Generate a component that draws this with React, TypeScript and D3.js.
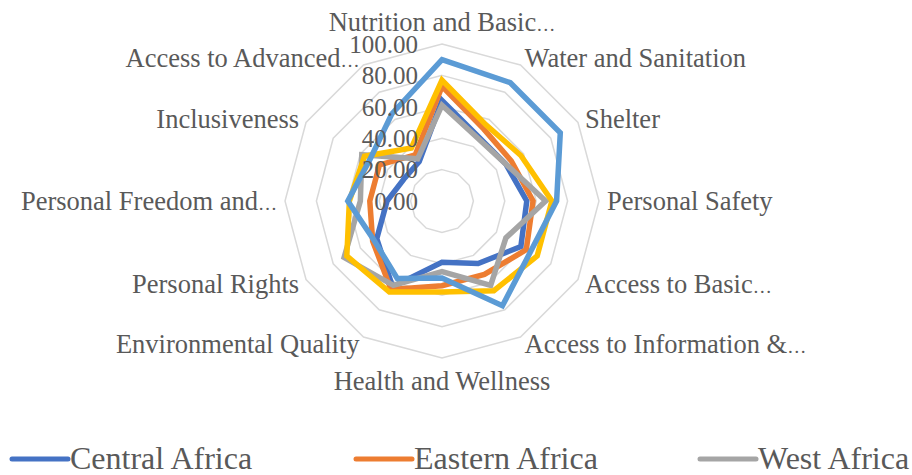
import React from "react";
import * as d3 from "d3";

const categories = [
  "Nutrition and Basic…",
  "Water and Sanitation",
  "Shelter",
  "Personal Safety",
  "Access to Basic…",
  "Access to Information &…",
  "Health and Wellness",
  "Environmental Quality",
  "Personal Rights",
  "Personal Freedom and…",
  "Inclusiveness",
  "Access to Advanced…",
];

const seriesNames = ["Central Africa", "Eastern Africa", "West Africa", "Southern Africa", "North Africa"];
const centralAfrica = [64, 47, 47, 54, 58, 46, 39, 63, 48, 35, 28, 29];
const easternAfrica = [73, 53, 51, 58, 62, 54, 54, 65, 51, 46, 46, 34];
const westAfrica = [61, 46, 47, 66, 47, 62, 45, 62, 72, 52, 59, 31];
const southernAfrica = [77, 56, 58, 70, 70, 66, 58, 67, 70, 59, 57, 39];
const northAfrica = [90, 87, 87, 73, 65, 77, 49, 57, 50, 60, 53, 64];
const seriesColors = ["#4472C4", "#ED7D31", "#A5A5A5", "#FFC000", "#5B9BD5"];
const tickValues = [0, 20, 40, 60, 80, 100];

const W = 912;
const H = 475;
const CX = 442;
const CY = 201;
const R = 157;
const FONT = "'Liberation Serif', 'Times New Roman', serif";
const TEXT = "#595959";

function Label({ text, size }: { text: string; size: number }) {
  if (text.endsWith("…")) {
    return (
      <>
        {text.slice(0, -1)}
        <tspan fontSize={size * 0.72}>…</tspan>
      </>
    );
  }
  return <>{text}</>;
}

export default function App() {
  const allSeries = [centralAfrica, easternAfrica, westAfrica, southernAfrica, northAfrica];
  const n = categories.length;
  const angle = d3.scaleLinear().domain([0, n]).range([0, 2 * Math.PI]);
  const r = d3.scaleLinear().domain([0, 100]).range([0, R]);

  const radial = d3
    .lineRadial<number>()
    .angle((_, i) => angle(i))
    .radius((v) => r(v))
    .curve(d3.curveLinearClosed);

  const legendItems = seriesNames
    .map((name, i) => ({
      name,
      color: seriesColors[i],
      x: 12 + (i % 3) * 344,
      y: 459 + Math.floor(i / 3) * 45,
    }))
    .filter((d) => d.y < H);

  const labelSize = 26.5;

  return (
    <svg
      width={W}
      height={H}
      style={{ position: "absolute", left: 0, top: 0, background: "#fff", overflow: "hidden" }}
      fontFamily={FONT}
    >
      <rect width={W} height={H} fill="#fff" />
      <g transform={`translate(${CX},${CY})`}>
        {tickValues.slice(1).map((t) => (
          <path
            key={t}
            d={radial(new Array(n).fill(t)) || ""}
            fill="none"
            stroke="#D9D9D9"
            strokeWidth={1.5}
          />
        ))}
        {allSeries.map((vals, si) => (
          <path
            key={si}
            d={radial(vals) || ""}
            fill="none"
            stroke={seriesColors[si]}
            strokeWidth={5.5}
            strokeLinejoin="miter"
          />
        ))}
        {tickValues.map((t) => (
          <text
            key={t}
            x={-24}
            y={-r(t)}
            dy="0.35em"
            textAnchor="end"
            fontSize={25}
            fill={TEXT}
          >
            {t.toFixed(2)}
          </text>
        ))}
        {categories.map((c, i) => {
          const a = angle(i);
          const s = Math.sin(a);
          const co = Math.cos(a);
          const rr = R + 8;
          const x = rr * s;
          const y = -rr * co;
          let anchor = "middle";
          if (s > 0.01) anchor = "start";
          else if (s < -0.01) anchor = "end";
          let dy = "0.35em";
          if (i === 0) dy = "-0.2em";
          if (i === n / 2) dy = "0.92em";
          return (
            <text key={c} x={x} y={y} dy={dy} textAnchor={anchor} fontSize={labelSize} fill={TEXT}>
              <Label text={c} size={labelSize} />
            </text>
          );
        })}
      </g>
      {legendItems.map((d) => (
        <g key={d.name}>
          <line
            x1={d.x}
            x2={d.x + 56}
            y1={d.y}
            y2={d.y}
            stroke={d.color}
            strokeWidth={5}
            strokeLinecap="round"
          />
          <text x={d.x + 58} y={d.y + 10} fontSize={32} fill={TEXT}>
            {d.name}
          </text>
        </g>
      ))}
    </svg>
  );
}
